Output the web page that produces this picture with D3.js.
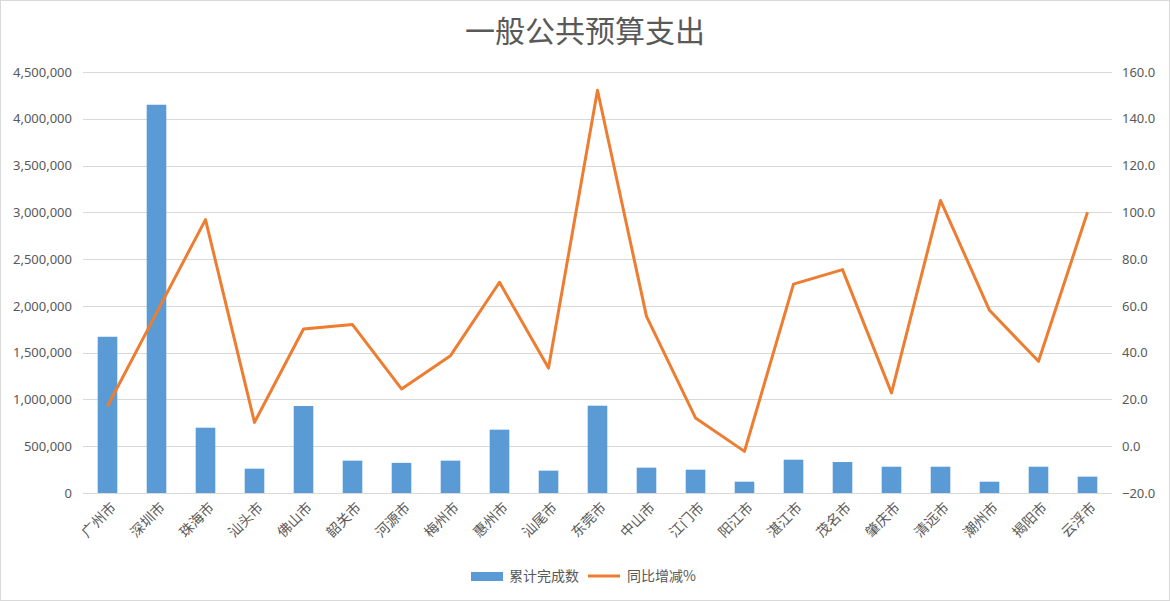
<!DOCTYPE html>
<html>
<head>
<meta charset="utf-8">
<script src="https://cdn.jsdelivr.net/npm/d3@7"></script>
<style>
  body { margin: 0; background: #fff; }
  svg { display: block; font-family: "Noto Sans CJK SC", "Noto Sans", sans-serif; }
</style>
</head>
<body>
<svg id="chart" width="1170" height="601"></svg>
<script>
// city names
const cities = ['广州市', '深圳市', '珠海市', '汕头市', '佛山市', '韶关市', '河源市', '梅州市', '惠州市', '汕尾市', '东莞市',
  '中山市', '江门市', '阳江市', '湛江市', '茂名市', '肇庆市', '清远市', '潮州市', '揭阳市', '云浮市'];
// 累计完成数 (bars, left axis)
const totals = [1670000, 4150000, 698000, 260000, 930000, 346000, 322000, 346000, 677000, 239000, 933000,
  271000, 249000, 121000, 356000, 331000, 281000, 281000, 121000, 281000, 175000];
// 同比增减% (line, right axis)
const growth = [17.1, 57.0, 96.9, 10.2, 50.1, 52.0, 24.5, 38.7, 70.1, 33.4, 152.2,
  55.5, 12.1, -2.2, 69.3, 75.5, 22.8, 105.1, 58.1, 36.3, 100.0];
const leftTicks = [0, 500000, 1000000, 1500000, 2000000, 2500000, 3000000, 3500000, 4000000, 4500000];
const rightTicks = [-20, 0, 20, 40, 60, 80, 100, 120, 140, 160];

const svg = d3.select('#chart');
const W = 1170, H = 601;
const margin = {top: 72, right: 58, bottom: 108, left: 83};
const plotW = W - margin.left - margin.right;
const plotH = H - margin.top - margin.bottom;
const textColor = '#595959';

// outer border
svg.append('rect')
  .attr('x', 0.5).attr('y', 0.5)
  .attr('width', W - 1).attr('height', H - 1)
  .attr('fill', '#fff').attr('stroke', '#d9d9d9');

svg.append('text')
  .attr('x', 585).attr('y', 42)
  .attr('text-anchor', 'middle')
  .attr('font-size', 30)
  .attr('fill', textColor)
  .text('一般公共预算支出');

const x = d3.scaleBand()
  .domain(cities)
  .range([0, plotW])
  .paddingInner(0.6)
  .paddingOuter(0.3);

const yLeft = d3.scaleLinear().domain([0, 4500000]).range([plotH, 0]);
const yRight = d3.scaleLinear().domain([-20, 160]).range([plotH, 0]);

const g = svg.append('g').attr('transform', `translate(${margin.left},${margin.top})`);

// gridlines
g.append('g')
  .selectAll('line')
  .data(leftTicks)
  .enter().append('line')
  .attr('x1', 0).attr('x2', plotW)
  .attr('y1', d => Math.round(yLeft(d)) + 0.5)
  .attr('y2', d => Math.round(yLeft(d)) + 0.5)
  .attr('stroke', '#d9d9d9');

// left axis
const leftAxis = g.append('g')
  .call(d3.axisLeft(yLeft).tickValues(leftTicks).tickFormat(d3.format(',')).tickSize(0).tickPadding(11));
leftAxis.select('.domain').remove();
leftAxis.selectAll('text').attr('font-size', 13).attr('fill', textColor).attr('font-family', '"Noto Sans", sans-serif');

// right axis
const rightAxis = g.append('g')
  .attr('transform', `translate(${plotW},0)`)
  .call(d3.axisRight(yRight).tickValues(rightTicks).tickFormat(d3.format('.1f')).tickSize(0).tickPadding(10));
rightAxis.select('.domain').remove();
rightAxis.selectAll('text').attr('font-size', 13).attr('fill', textColor).attr('font-family', '"Noto Sans", sans-serif');

// bars
g.append('g')
  .selectAll('rect')
  .data(cities)
  .enter().append('rect')
  .attr('x', d => x(d))
  .attr('width', x.bandwidth())
  .attr('y', (d, i) => yLeft(totals[i]))
  .attr('height', (d, i) => plotH - yLeft(totals[i]))
  .attr('fill', '#5b9bd5');

// line
const line = d3.line()
  .x((d, i) => x(cities[i]) + x.bandwidth() / 2)
  .y(d => yRight(d));

g.append('path')
  .datum(growth)
  .attr('d', line)
  .attr('fill', 'none')
  .attr('stroke', '#ed7d31')
  .attr('stroke-width', 3)
  .attr('stroke-linejoin', 'round');

// category labels
g.append('g')
  .selectAll('text')
  .data(cities)
  .enter().append('text')
  .attr('transform', d => `translate(${x(d) + x.bandwidth() / 2 + 6},${plotH + 12}) rotate(-45)`)
  .attr('text-anchor', 'end')
  .attr('dy', '0.35em')
  .attr('font-size', 14)
  .attr('fill', textColor)
  .text(d => d);

// legend
const legend = svg.append('g').attr('transform', 'translate(471,576)');
legend.append('rect')
  .attr('x', 0).attr('y', -4)
  .attr('width', 32).attr('height', 9)
  .attr('fill', '#5b9bd5');
legend.append('text')
  .attr('x', 38).attr('y', 0).attr('dy', '0.35em')
  .attr('font-size', 14).attr('fill', textColor)
  .text('累计完成数');
legend.append('line')
  .attr('x1', 117).attr('x2', 149)
  .attr('y1', 0).attr('y2', 0)
  .attr('stroke', '#ed7d31').attr('stroke-width', 3);
legend.append('text')
  .attr('x', 156).attr('y', 0).attr('dy', '0.35em')
  .attr('font-size', 14).attr('fill', textColor)
  .text('同比增减%');
</script>
</body>
</html>
